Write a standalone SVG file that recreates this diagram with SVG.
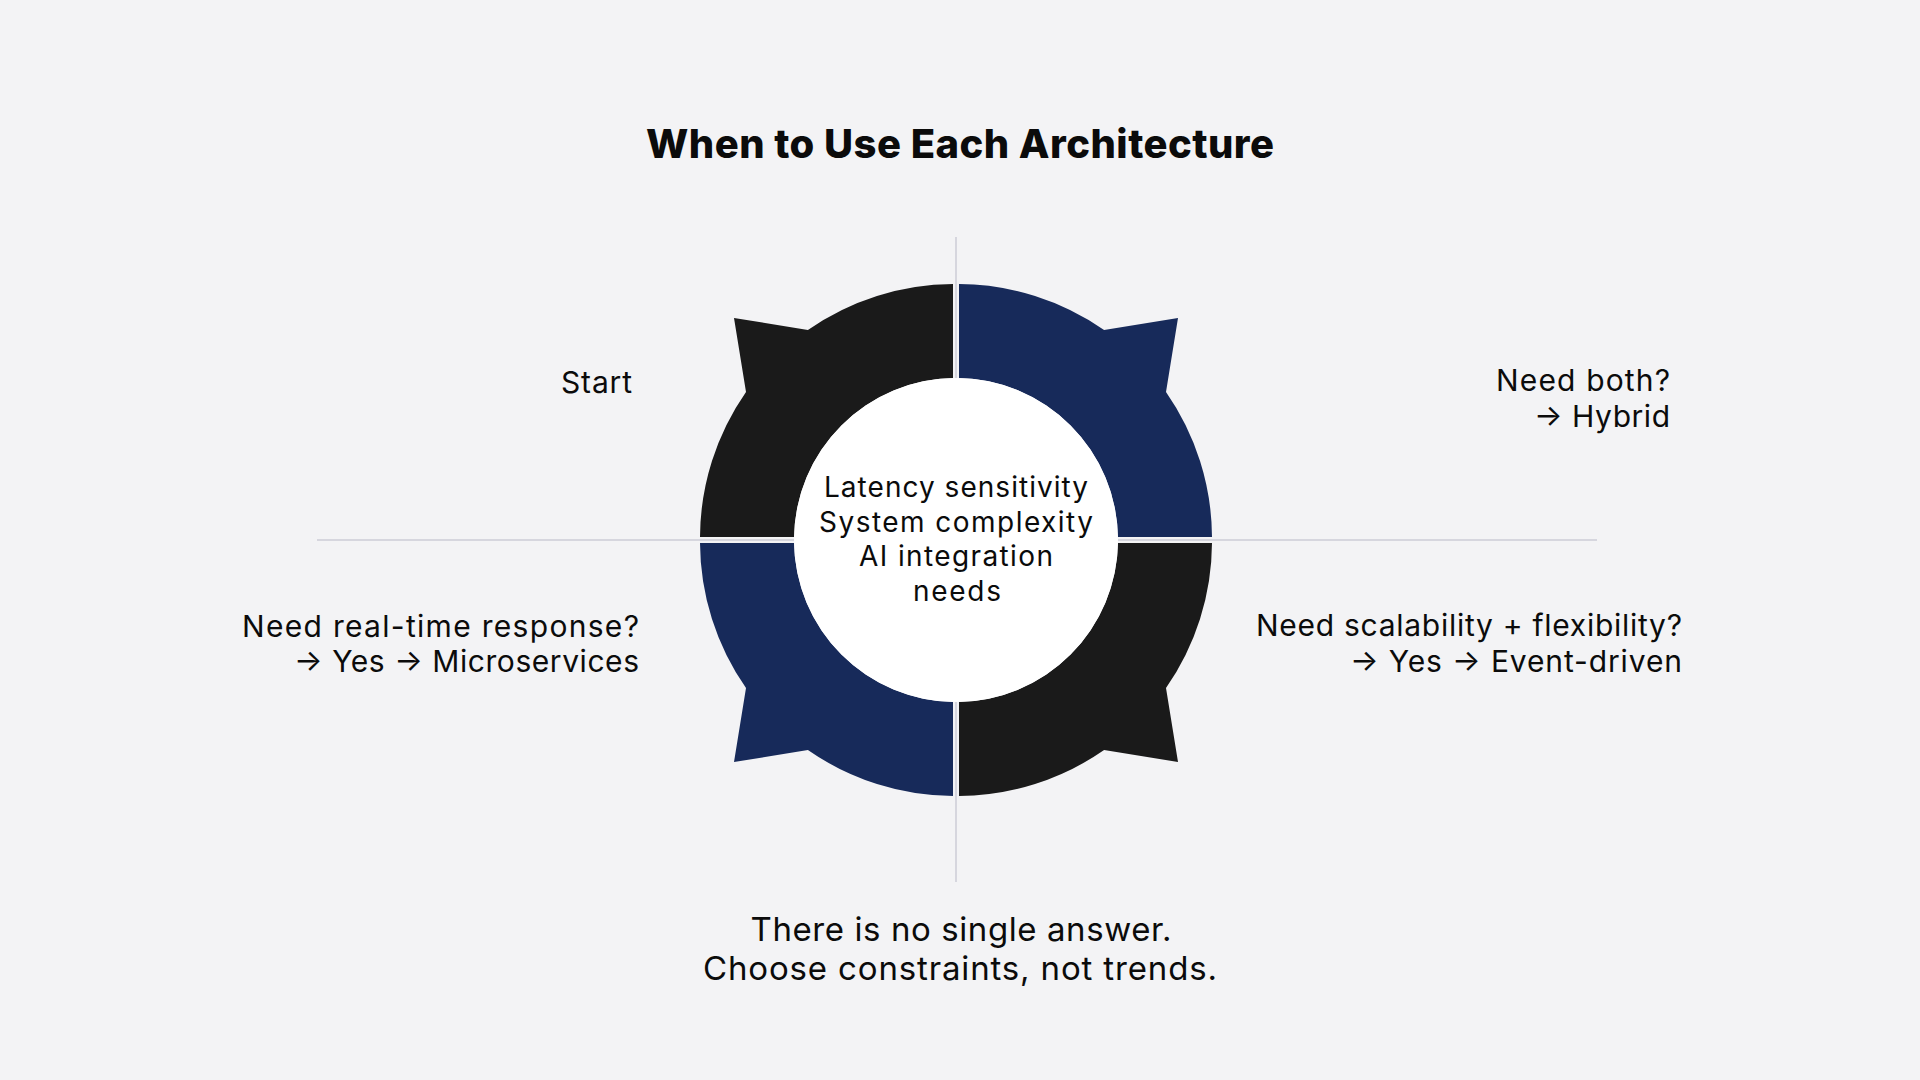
<svg xmlns="http://www.w3.org/2000/svg" width="1920" height="1080" viewBox="0 0 1920 1080">
  <style>
    .bg { fill: #f3f3f5; }
    .axis { stroke: #d6d6de; stroke-width: 2; fill: none; }
    .dark { fill: #1a1a1a; }
    .navy { fill: #172a5a; }
    .hub { fill: #ffffff; }
    text { font-family: "Inter", "Noto Sans", "DejaVu Sans", sans-serif; fill: #0b0b0b; }
    .title { font-size: 40px; font-weight: 800; text-anchor: middle; }
    .label { font-size: 30px; font-weight: 400; text-anchor: end; }
    .center { font-size: 28px; font-weight: 400; text-anchor: middle; }
    .footer { font-size: 33px; font-weight: 400; text-anchor: middle; }
  </style>
  <rect class="bg" x="0" y="0" width="1920" height="1080"/>

  <text id="title" class="title" x="960" y="158" textLength="628">When to Use Each Architecture</text>

  <g id="connectors">
    <line class="axis" x1="956" y1="237" x2="956" y2="882"/>
    <line class="axis" x1="317" y1="540" x2="1597" y2="540"/>
  </g>

  <g id="segment-top-left">
    <path class="dark" d="M 953 284 A 256 256 0 0 0 807.9 330 L 734 318 L 746 391.9 A 256 256 0 0 0 700 537 L 794 537 A 162 162 0 0 1 953 378 Z"/>
  </g>
  <g id="segment-top-right">
    <path class="navy" d="M 959 284 A 256 256 0 0 1 1104.1 330 L 1178 318 L 1166 391.9 A 256 256 0 0 1 1212 537 L 1118 537 A 162 162 0 0 0 959 378 Z"/>
  </g>
  <g id="segment-bottom-left">
    <path class="navy" d="M 953 796 A 256 256 0 0 1 807.9 750 L 734 762 L 746 688.1 A 256 256 0 0 1 700 543 L 794 543 A 162 162 0 0 0 953 702 Z"/>
  </g>
  <g id="segment-bottom-right">
    <path class="dark" d="M 959 796 A 256 256 0 0 0 1104.1 750 L 1178 762 L 1166 688.1 A 256 256 0 0 0 1212 543 L 1118 543 A 162 162 0 0 1 959 702 Z"/>
  </g>

  <g id="hub">
    <circle class="hub" cx="956" cy="540" r="162"/>
    <text class="center" x="956" y="497" textLength="264">Latency sensitivity</text>
    <text class="center" x="956" y="532" textLength="274">System complexity</text>
    <text class="center" x="956" y="566" textLength="194">AI integration</text>
    <text class="center" x="957" y="601" textLength="88">needs</text>
  </g>

  <g id="label-start">
    <text class="label" x="632" y="393" textLength="71">Start</text>
  </g>
  <g id="label-hybrid">
    <text class="label" x="1670" y="391" textLength="174">Need both?</text>
    <text class="label" x="1670" y="427" textLength="136">→ Hybrid</text>
  </g>
  <g id="label-microservices">
    <text class="label" x="639" y="637" textLength="397">Need real-time response?</text>
    <text class="label" x="639" y="672" textLength="345">→ Yes → Microservices</text>
  </g>
  <g id="label-event-driven">
    <text class="label" x="1682" y="636" textLength="426">Need scalability + flexibility?</text>
    <text class="label" x="1682" y="672" textLength="332">→ Yes → Event-driven</text>
  </g>

  <g id="footer">
    <text class="footer" x="961" y="941" textLength="421">There is no single answer.</text>
    <text class="footer" x="960" y="980" textLength="514">Choose constraints, not trends.</text>
  </g>
</svg>
